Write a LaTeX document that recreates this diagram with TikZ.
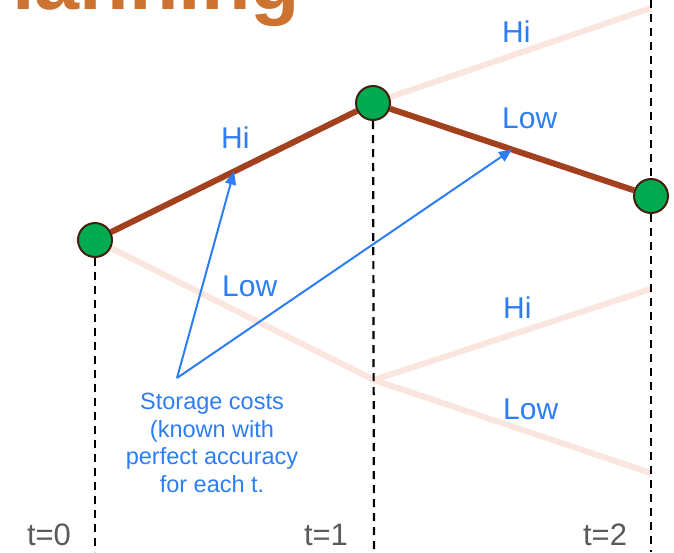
\documentclass[tikz,border=0pt]{standalone}
\usepackage{fontspec}
\setmainfont{Liberation Sans}
\usetikzlibrary{arrows.meta,calc,backgrounds}
\definecolor{stagegreen}{RGB}{0,170,80}
\definecolor{stageedge}{RGB}{70,30,15}
\definecolor{pathbrown}{RGB}{163,65,30}
\definecolor{fadepink}{RGB}{250,230,222}
\definecolor{costblue}{RGB}{45,125,245}
\definecolor{tgray}{RGB}{90,90,90}
\definecolor{titleorange}{RGB}{205,115,50}
\tikzset{
stage/.style={circle,draw=stageedge,fill=stagegreen,line width=2pt,minimum size=34pt,inner sep=0pt},
chosen/.style={draw=pathbrown,line width=6pt},
unchosen/.style={draw=fadepink,line width=6pt},
period/.style={draw=black,line width=2.2pt,dash pattern=on 8pt off 6pt},
branch/.style={text=costblue,font=\fontsize{30}{36}\selectfont,anchor=base west,inner sep=0pt},
tlabel/.style={text=tgray,font=\fontsize{31}{37}\selectfont,inner sep=0pt},
note/.style={text=costblue,font=\fontsize{23.5}{27.5}\selectfont,align=center,inner sep=0pt},
title/.style={text=titleorange,font=\fontsize{81}{84}\selectfont\bfseries,anchor=base west,inner sep=0pt},
pointer/.style={draw=costblue,line width=2pt,-{Triangle[length=13pt,width=11pt]}}
}
\begin{document}
\begin{tikzpicture}[x=1pt,y=-1pt]
\useasboundingbox (0,0) rectangle (674,552);
\clip (0,0) rectangle (674,552);
\node[title] (ttl) at (12,9) {lanning};
% decision points
\node[stage] (s0) at (95,240) {};
\node[stage] (s1) at (373,103) {};
\node[stage] (s2) at (651,196) {};
\coordinate (lo1) at (374,380);
\coordinate (hihi) at (651,8);
\coordinate (lohi) at (651,289);
\coordinate (lolo) at (651,473);
\coordinate (top2) at (651,0);
\coordinate (b0) at (95,552);
\coordinate (b1) at (374,552);
\coordinate (b2) at (651,552);
\coordinate (src) at (177,378);
\begin{scope}[on background layer]
\draw[unchosen](s1)--(hihi);\draw[unchosen](s0)--(lo1)--(lohi);\draw[unchosen](lo1)--(lolo);
\draw[period](s0)--(b0);\draw[period](s1)--(b1);\draw[period](top2)--(s2)--(b2);
\draw[chosen](s0)--(s1);\draw[chosen](s1)--(s2);
\end{scope}
% scenario labels
\node[branch] (hi0) at (221,148) {Hi};
\node[branch] (low0) at (222,296) {Low};
\node[branch] (hi1) at (502,42) {Hi};
\node[branch] (low1) at (502,128) {Low};
\node[branch] (hi2) at (503,318) {Hi};
\node[branch] (low2) at (503,419) {Low};
\node[note] (cost) at (212,443) {Storage costs\\(known with\\perfect accuracy\\for each t.};
\draw[pointer](src)--($(s0)!0.5!(s1)$);\draw[pointer](src)--($(s1)!0.5!(s2)$);
% time stages
\node[tlabel] (t0) at (49,535) {t=0};
\node[tlabel] (t1) at (326,535) {t=1};
\node[tlabel] (t2) at (605,535) {t=2};
\end{tikzpicture}
\end{document}
